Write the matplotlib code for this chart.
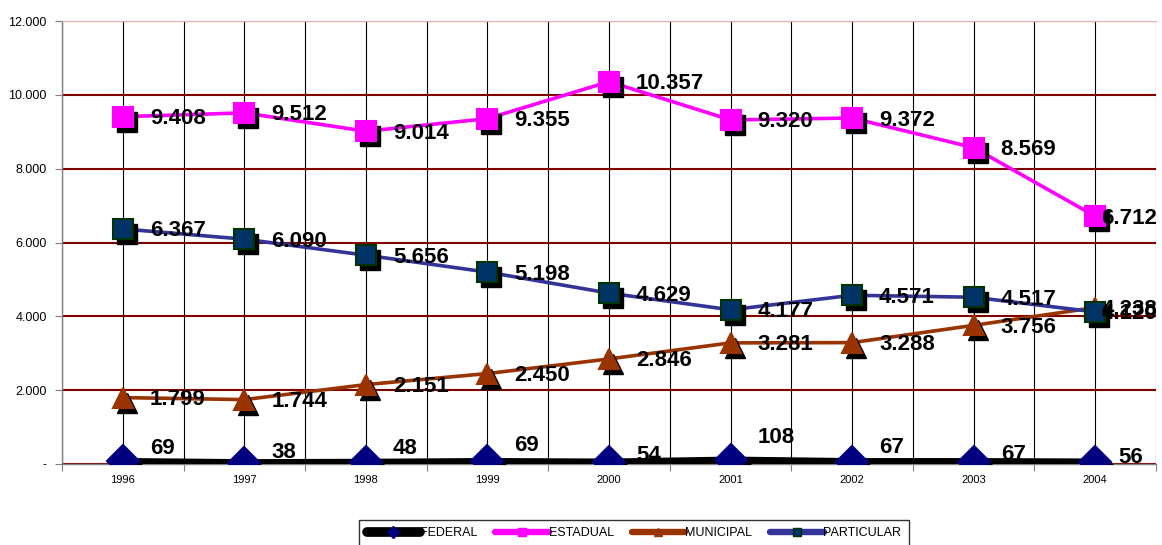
import matplotlib.pyplot as plt
import matplotlib.transforms as mtransforms
from matplotlib.ticker import FixedLocator, FuncFormatter

plt.rcParams['font.family'] = ['Liberation Sans', 'DejaVu Sans']

anos = ['1996', '1997', '1998', '1999', '2000', '2001', '2002', '2003', '2004']
federal = [69, 38, 48, 69, 54, 108, 67, 67, 56]
estadual = [9408, 9512, 9014, 9355, 10357, 9320, 9372, 8569, 6712]
municipal = [1799, 1744, 2151, 2450, 2846, 3281, 3288, 3756, 4238]
particular = [6367, 6090, 5656, 5198, 4629, 4177, 4571, 4517, 4120]

# deslocamento vertical (px) dos rotulos da serie federal
desloc_federal = [13, 10, 14, 16, 7, 23, 14, 7, 4]


def milhar(v, pos=None):
    if v == 0:
        return '-'
    return f'{int(v):,}'.replace(',', '.')


fig = plt.figure(figsize=(11.62, 5.45), dpi=100)
ax = fig.add_axes([62 / 1162, 81 / 545, 1094 / 1162, 443 / 545])

x = list(range(len(anos)))

series = [
    ('FEDERAL', federal, 'black', 5, 'D', '#000080', '#000080', 16),
    ('ESTADUAL', estadual, '#FF00FF', 2.6, 's', '#FF00FF', '#FF00FF', 14),
    ('MUNICIPAL', municipal, '#993300', 2.6, '^', '#993300', '#993300', 15),
    ('PARTICULAR', particular, '#333399', 2.6, 's', '#003366', '#003300', 14),
]

sombra = mtransforms.offset_copy(ax.transData, fig=fig, x=4, y=-5, units='dots')
handles = []
for nome, vals, cor, lw, mk, face, borda, ms in series:
    ax.plot(x, vals, color=cor, lw=lw, solid_capstyle='round', zorder=3)
    # sombra preta dos marcadores
    ax.plot(x, vals, ls='none', marker=mk, ms=ms, mfc='black', mec='black',
            transform=sombra, zorder=4)
    ax.plot(x, vals, ls='none', marker=mk, ms=ms, mfc=face, mec=borda,
            mew=1.5, zorder=5)
    h, = plt.plot([], [], color=cor, lw=lw + 2, marker=mk, ms=6,
                  mfc=face, mec=borda, solid_capstyle='round')
    handles.append((h, nome))


def rotulo(v, i, dy, dx_fim=6):
    # o ultimo ano fica colado ao marcador para caber na area
    dx = dx_fim if i == len(anos) - 1 else 27
    ax.annotate(milhar(v), (i, v), xytext=(dx * 0.72, dy * 0.72),
                textcoords='offset points', ha='left', va='center',
                fontsize=16, fontweight='bold', zorder=6, annotation_clip=False)


for i in x:
    rotulo(federal[i], i, desloc_federal[i], dx_fim=23)
for vals in (estadual, municipal, particular):
    for i in x:
        rotulo(vals[i], i, -2)

ax.set_xlim(-0.5, len(anos) - 0.5)
ax.set_ylim(0, 12000)
ax.set_yticks(range(0, 12001, 2000))
ax.yaxis.set_major_formatter(FuncFormatter(milhar))
ax.tick_params(axis='y', labelsize=9, length=5, color='#808080', pad=6)

ax.xaxis.set_major_locator(FixedLocator([i + 0.5 for i in range(-1, len(anos))]))
ax.xaxis.set_minor_locator(FixedLocator(x))
ax.set_xticklabels([])
ax.set_xticklabels(anos, minor=True)
ax.tick_params(axis='x', which='major', length=5, color='#808080')
ax.tick_params(axis='x', which='minor', length=0, labelsize=8, pad=8)

ax.grid(axis='y', color='#800000', lw=1.5, zorder=1)
ax.grid(axis='x', which='both', color='black', lw=0.8, zorder=1)
ax.set_axisbelow(True)

ax.spines['right'].set_visible(False)
ax.spines['top'].set_color('#E8B0B0')
ax.spines['top'].set_linewidth(0.8)
for s in ('left', 'bottom'):
    ax.spines[s].set_color('#808080')
    ax.spines[s].set_linewidth(1)

leg = fig.legend([h for h, _ in handles], [n for _, n in handles],
                 loc='upper center', bbox_to_anchor=(634 / 1162, 1 - 520 / 545),
                 ncol=4, fontsize=9, frameon=True, fancybox=False,
                 edgecolor='black', handlelength=4.3, handletextpad=0.0,
                 columnspacing=1.4, borderpad=0.6, borderaxespad=0)
leg.get_frame().set_linewidth(1)

fig.savefig('out.png', dpi=100)
